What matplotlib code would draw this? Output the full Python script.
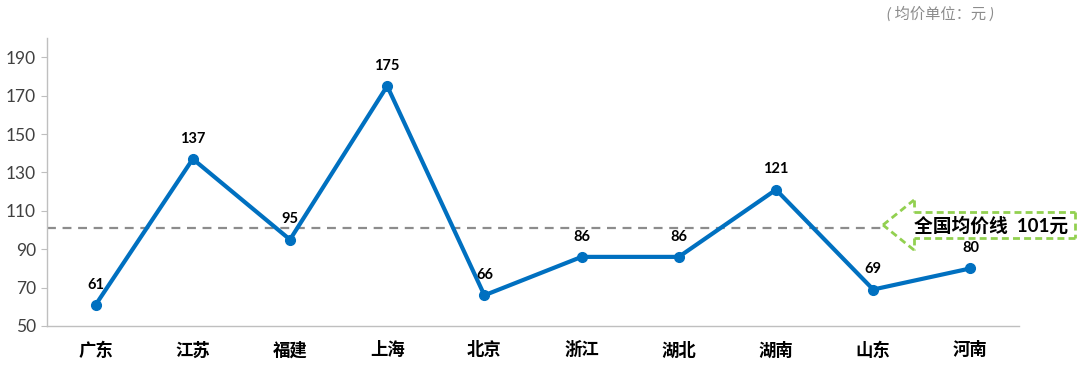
import numpy as np
import matplotlib.pyplot as plt
from matplotlib.patches import Polygon

plt.rcParams['font.family'] = ['Lato', 'Noto Sans CJK SC', 'DejaVu Sans']

# data
provinces = ['广东', '江苏', '福建', '上海', '北京', '浙江', '湖北', '湖南', '山东', '河南']
prices = [61, 137, 95, 175, 66, 86, 86, 121, 69, 80]
avg_price = 101
y_ticks = [50, 70, 90, 110, 130, 150, 170, 190]

fig = plt.figure(figsize=(10.8, 3.67), dpi=100)
ax = fig.add_axes([47/1080, 1-326/367, 972/1080, 288/367])

x = np.arange(len(provinces))
ax.plot(x, prices, color='#0070C0', linewidth=3, marker='o', markersize=7, zorder=3)

for xi, v in zip(x, prices):
    ax.annotate(str(v), (xi, v), xytext=(0, 9.5), textcoords='offset points',
                ha='center', va='bottom', fontsize=10.5, fontweight='bold',
                color='black', zorder=6)

# average dashed line, ends at the arrow tip
tip_x = (883-47)/97.2 - 0.5
ax.plot([-0.5, tip_x], [avg_price, avg_price], color='#8C8C8C', linestyle='--',
        linewidth=1.6, dashes=(4, 3), zorder=2, clip_on=False)

# dashed green arrow box
def px(xp, yp):
    return ((xp-47)/97.2 - 0.5, 50 + (326-yp)/38.4*20)

pts = [px(883, 225), px(914, 200), px(914, 212), px(1075, 212),
       px(1075, 238), px(914, 238), px(914, 250)]
arrow = Polygon(pts, closed=True, facecolor='white', edgecolor='none',
                clip_on=False, zorder=4)
ax.add_patch(arrow)
for i in range(len(pts)):
    p0 = pts[i]
    p1 = pts[(i+1) % len(pts)]
    ax.plot([p0[0], p1[0]], [p0[1], p1[1]], color='#92D050', linewidth=2,
            linestyle='--', dashes=(2.5, 1.5), solid_capstyle='butt',
            clip_on=False, zorder=4.5)
cx, cy = px(991, 225)
ax.text(cx, cy, '全国均价线  101元', ha='center', va='center', fontsize=13.5,
        fontweight='bold', color='black', zorder=5, clip_on=False)

ax.set_xlim(-0.5, 9.5)
ax.set_ylim(50, 200)
ax.set_yticks(y_ticks)
ax.set_xticks(x)
ax.set_xticklabels(provinces, fontsize=12.5, fontweight='bold')
ax.tick_params(axis='x', length=0, pad=11)
ax.tick_params(axis='y', length=4, color='#BFBFBF', labelsize=12.5, labelcolor='#404040', pad=4)
for s in ['top', 'right']:
    ax.spines[s].set_visible(False)
for s in ['left', 'bottom']:
    ax.spines[s].set_color('#BFBFBF')
    ax.spines[s].set_linewidth(1)

fig.text(940/1080, 1-14/367, '( 均价单位：元 )', ha='center', va='center',
         fontsize=11, color='#8C8C8C', style='italic')

fig.savefig('out.png', dpi=100)
